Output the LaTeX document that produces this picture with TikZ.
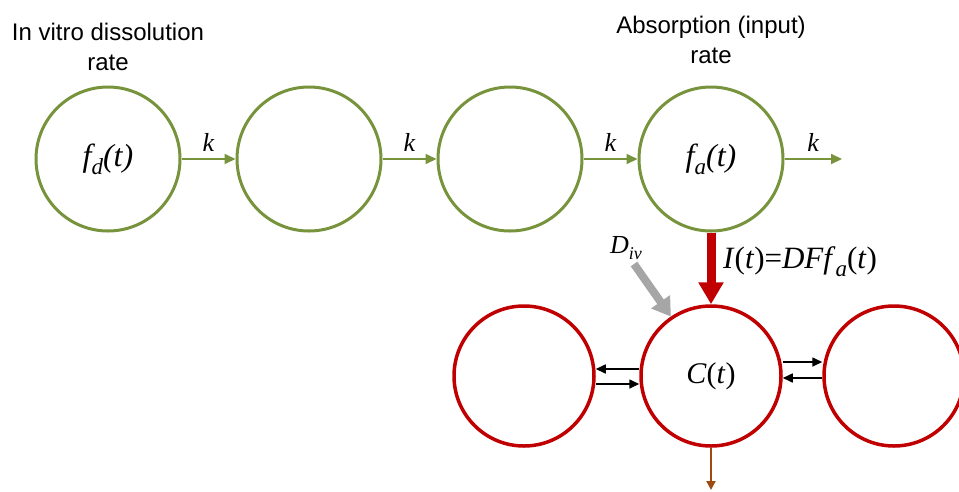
\documentclass[tikz,border=0pt]{standalone}
\usepackage{fontspec}
\setmainfont{Liberation Sans}
\newfontfamily\tms{Liberation Serif}
\usetikzlibrary{arrows.meta}
\definecolor{olive}{HTML}{77933C}
\definecolor{dred}{HTML}{C00000}
\definecolor{lgray}{HTML}{A6A6A6}
\definecolor{brn}{HTML}{9C4A10}
\newcommand\mysub[2][23]{\raisebox{-0.25em}{\fontsize{#1}{#1}\selectfont #2}}
\tikzset{
  gc/.style={circle,draw=olive,line width=3pt,minimum size=144pt,inner sep=0pt},
  rc/.style={circle,draw=dred,line width=3.5pt,minimum size=140pt,inner sep=0pt},
  garrow/.style={draw=olive,line width=2pt,-{Triangle[length=11pt,width=10pt]},olive},
  barrow/.style={draw=black,line width=1.6pt,-{Triangle[length=10pt,width=9pt]}},
  klab/.style={text=black,font=\tms\itshape\fontsize{26}{26}\selectfont,inner sep=0pt,above=7pt},
  mth/.style={font=\tms\fontsize{30}{30}\selectfont},
  fmth/.style={font=\tms\itshape\fontsize{32}{32}\selectfont},
  toplab/.style={align=center,inner sep=0pt,font=\fontsize{24}{30}\selectfont}
}
\begin{document}
\begin{tikzpicture}[x=1pt,y=-1pt]
\useasboundingbox (0,0) rectangle (959,491);
% top labels
\node[toplab] (lab1) at (108,47) {In vitro dissolution\\rate};
\node[toplab] (lab2) at (711,40) {Absorption (input)\\rate};
% green compartments
\node[gc,fmth] (g1) at (108,159) {f\mysub{d}(t)};
\node[gc] (g2) at (309,159) {};
\node[gc] (g3) at (510,159) {};
\node[gc,fmth] (g4) at (711,159) {f\mysub{a}(t)};
\coordinate (gout) at (842,159);
\draw[garrow] (g1) -- node[klab]{k} (g2);
\draw[garrow] (g2) -- node[klab]{k} (g3);
\draw[garrow] (g3) -- node[klab]{k} (g4);
\draw[garrow] (g4) -- node[klab]{k} (gout);
% red compartments
\node[rc,mth] (C) at (711,376) {\textit{C}(\textit{t})};
\node[rc] (L) at (524,376) {};
\node[rc] (R) at (894,376) {};
% input arrow
\draw[dred,line width=9pt,-{Triangle[length=22pt,width=24pt]}] (g4) -- (C);
\node[anchor=west,inner sep=0pt,font=\tms\fontsize{31}{31}\selectfont] (inp) at (723,262) {\textit{I}(\textit{t})=\textit{DFf}\mysub{\textit{a}}(\textit{t})};
% iv dose
\coordinate (divs) at (634,264);
\draw[lgray,line width=8pt,-{Triangle[length=18pt,width=22pt]}] (divs) -- (C.124);
\node[inner sep=0pt,font=\tms\fontsize{26}{26}\selectfont] (div) at (626,248) {\textit{D}\mysub[18]{\textit{iv}}};
% exchange arrows
\draw[barrow] ([yshift=7pt]C.west) -- ([yshift=7pt]L.east);
\draw[barrow] ([yshift=-8pt]L.east) -- ([yshift=-8pt]C.west);
\draw[barrow] ([yshift=14pt]C.east) -- ([yshift=14pt]R.west);
\draw[barrow] ([yshift=-2pt]R.west) -- ([yshift=-2pt]C.east);
% elimination
\coordinate (elim) at (711,490);
\draw[brn,line width=2pt,-{Triangle[length=9pt,width=9pt]}] (C) -- (elim);
\end{tikzpicture}
\end{document}
